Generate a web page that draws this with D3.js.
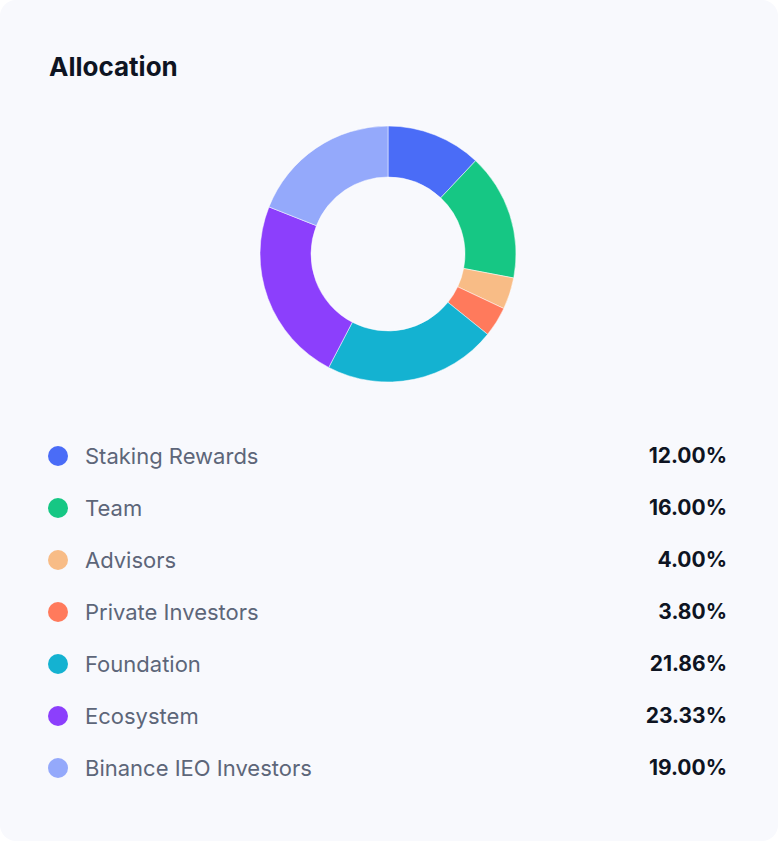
<!DOCTYPE html>
<html>
<head>
<meta charset="utf-8">
<script src="https://cdn.jsdelivr.net/npm/d3@7"></script>
<style>
  body { margin: 0; background: #ffffff; font-family: Inter, "Noto Sans", sans-serif; }
</style>
</head>
<body>
<svg id="chart" width="780" height="844"></svg>
<script>
// Update data here
const categories = ["Staking Rewards", "Team", "Advisors", "Private Investors", "Foundation", "Ecosystem", "Binance IEO Investors"];
const values = [12.00, 16.00, 4.00, 3.80, 21.86, 23.33, 19.00];
const colors = ["#4a6cf7", "#16c784", "#f8bc86", "#ff7a5c", "#14b2d1", "#8c3ffc", "#94a9fb"];

const data = categories.map((name, i) => ({ name, value: values[i], color: colors[i] }));

const svg = d3.select("#chart");

// Card background
svg.append("rect")
    .attr("x", 0).attr("y", 0)
    .attr("width", 778).attr("height", 841)
    .attr("rx", 16)
    .attr("fill", "#f8f9fd");

svg.append("text")
    .attr("x", 49).attr("y", 76)
    .attr("font-size", 26)
    .attr("font-weight", 700)
    .attr("fill", "#0e1422")
    .text("Allocation");

// Donut
const pie = d3.pie().value(d => d.value).sort(null);
const arc = d3.arc().innerRadius(77).outerRadius(128);

svg.append("g")
    .attr("transform", "translate(388, 254)")
    .selectAll("path")
    .data(pie(data))
    .enter()
    .append("path")
    .attr("d", arc)
    .attr("fill", d => d.data.color)
    .attr("stroke", "#ffffff")
    .attr("stroke-width", 0.5);

// Legend rows
const y = d3.scaleBand()
    .domain(categories)
    .range([430, 794]);

const rows = svg.selectAll("g.row")
    .data(data)
    .enter()
    .append("g")
    .attr("class", "row")
    .attr("transform", d => `translate(0, ${y(d.name) + y.bandwidth() / 2})`);

rows.append("circle")
    .attr("cx", 58).attr("r", 10)
    .attr("fill", d => d.color);

rows.append("text")
    .attr("x", 85).attr("dy", "0.35em")
    .attr("font-size", 22)
    .attr("fill", "#5d6679")
    .text(d => d.name);

rows.append("text")
    .attr("x", 727).attr("dy", "0.35em")
    .attr("text-anchor", "end")
    .attr("font-size", 21)
    .attr("font-weight", 700)
    .attr("fill", "#0e1422")
    .text(d => d.value.toFixed(2) + "%");
</script>
</body>
</html>
